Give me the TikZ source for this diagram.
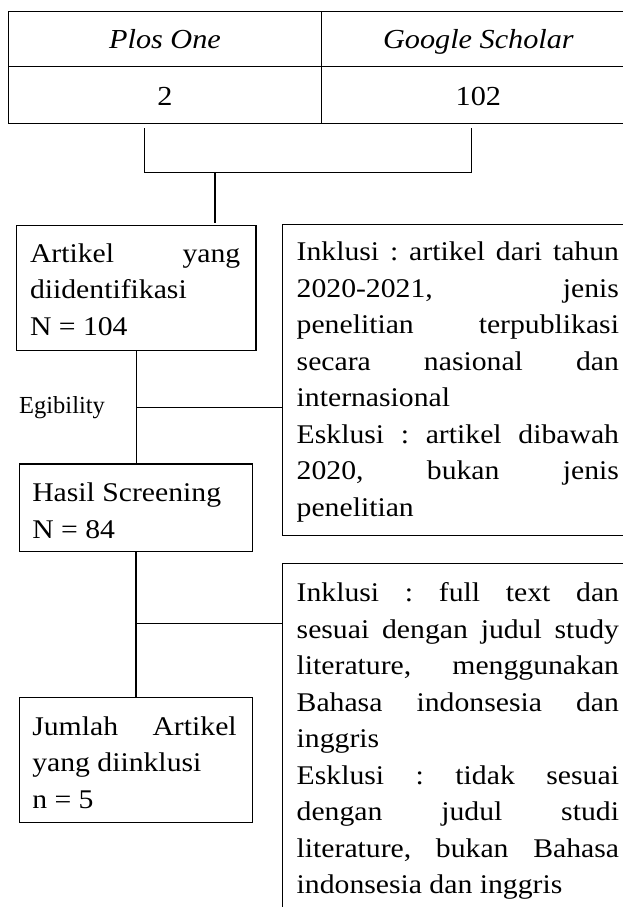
\documentclass[tikz,border=0pt]{standalone}
\usepackage{fontspec}
\setmainfont{Liberation Serif}[FakeStretch=1.1]
\newfontfamily\egfont{Liberation Serif}
\newcommand\bx[6]{\hbox{\hskip#3\relax\vbox to #1{\def\lw{#4}\baselineskip=36.5pt\lineskiplimit=-100pt\lineskip=0pt\relax\vskip\dimexpr#2-25pt\relax#6\vfil}\hskip#5\relax}}
\newcommand\jline[1]{\hbox to \lw{\vrule height 25pt depth 0pt width 0pt\frenchspacing\spaceskip=.25em plus 1fil\relax#1}}
\newcommand\lline[1]{\hbox to \lw{\vrule height 25pt depth 0pt width 0pt\frenchspacing#1\hfil}}
\tikzset{
  boxst/.style={draw, line width=1.2pt, inner sep=0pt, outer sep=0pt, anchor=north west, font=\fontsize{27pt}{36.5pt}\selectfont},
  cellst/.style={draw, line width=1.5pt, inner sep=0pt, outer sep=0pt, anchor=north west, minimum width=313.4pt, font=\fontsize{27.5pt}{33pt}\selectfont},
  conn/.style={line width=1.1pt},
}
\begin{document}
\begin{tikzpicture}[x=1pt,y=-1pt]
\useasboundingbox (0,0) rectangle (623,907);
\clip (0,0) rectangle (623,907);
% table
\node[cellst, text height=36.6pt, text depth=18.4pt] (c11) at (8.3,11.7) {\itshape Plos One};
\node[cellst, text height=36.6pt, text depth=18.4pt] (c12) at (321.7,11.7) {\itshape Google Scholar};
\node[cellst, text height=38.3pt, text depth=18.3pt] (c21) at (8.3,66.7) {2};
\node[cellst, text height=38.3pt, text depth=18.3pt] (c22) at (321.7,66.7) {102};
% boxes
\node[boxst] (b1) at (16.7,225.5) {\bx{125.2pt}{36.8pt}{13.3pt}{210.3pt}{15.7pt}{%
  \jline{Artikel yang}\lline{diidentifikasi}\lline{N = 104}}};
\node[boxst] (b2) at (19.3,464) {\bx{87.7pt}{37.7pt}{13pt}{200pt}{20.4pt}{%
  \lline{Hasil Screening}\lline{N = 84}}};
\node[boxst] (b3) at (19.3,697.3) {\bx{125pt}{37.7pt}{13pt}{204.4pt}{16pt}{%
  \jline{Jumlah Artikel}\lline{yang diinklusi}\lline{n = 5}}};
\node[boxst] (rb1) at (282.7,224.5) {\bx{311pt}{36.2pt}{14pt}{322.3pt}{17pt}{%
  \jline{Inklusi : artikel dari tahun}%
  \jline{2020-2021, jenis}%
  \jline{penelitian terpublikasi}%
  \jline{secara nasional dan}%
  \lline{internasional}%
  \jline{Esklusi : artikel dibawah}%
  \jline{2020, bukan jenis}%
  \lline{penelitian}}};
\node[boxst] (rb2) at (282.7,563.3) {\bx{370pt}{38.4pt}{14pt}{322.3pt}{17pt}{%
  \jline{Inklusi : full text dan}%
  \jline{sesuai dengan judul study}%
  \jline{literature, menggunakan}%
  \jline{Bahasa indonsesia dan}%
  \lline{inggris}%
  \jline{Esklusi : tidak sesuai}%
  \jline{dengan judul studi}%
  \jline{literature, bukan Bahasa}%
  \lline{indonsesia dan inggris}}};
\node[anchor=base west, inner sep=0pt, font=\egfont\fontsize{24.5pt}{28pt}\selectfont] (eg) at (19,413.3) {Egibility};
% bracket
\coordinate (bl) at (144.3,128.3);
\coordinate (br) at (471.6,128.3);
\coordinate (bm) at (215,172.7);
\draw[conn] (bl) |- (bm) -| (br);
\draw[conn, shorten >=3pt] (bm) -- (bm |- b1.north);
% vertical flow
\draw[conn] (b1.south) -- (b1.south |- b2.north);
\draw[conn] (b2.south) -- (b2.south |- b3.north);
\coordinate (j1) at (136.2,407.3);
\coordinate (j2) at (136,623.3);
\draw[conn] (j1) -- (j1 -| rb1.west);
\draw[conn] (j2) -- (j2 -| rb2.west);
\end{tikzpicture}
\end{document}
